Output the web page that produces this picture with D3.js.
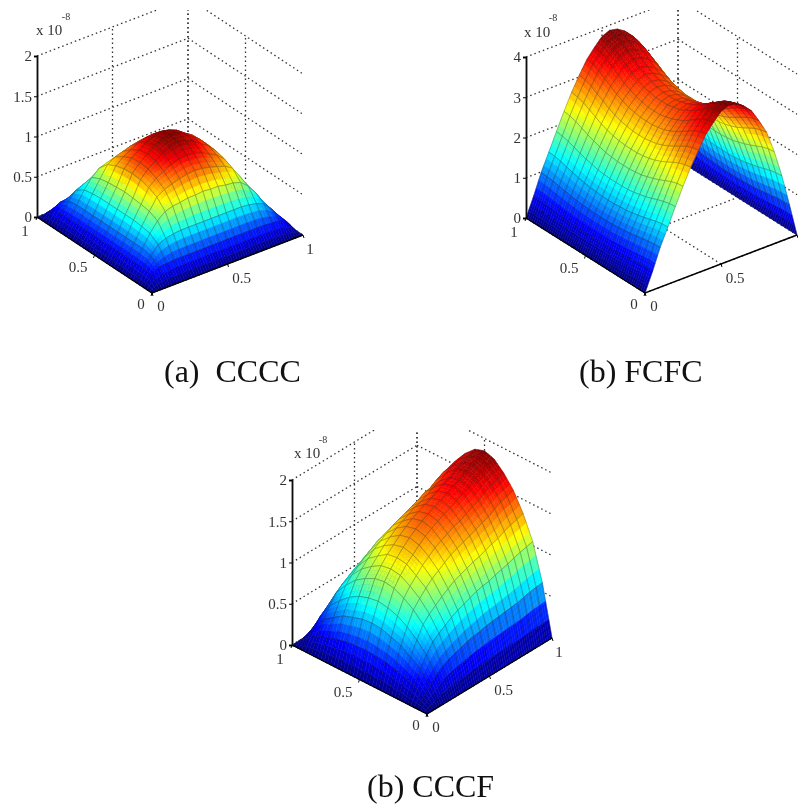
<!DOCTYPE html>
<html>
<head>
  <meta charset="utf-8">
  <script src="https://d3js.org/d3.v7.min.js"></script>
  <style>
    body { margin:0; background:#fff; }
    svg { display:block; }
    text { font-family:"Liberation Serif", serif; }
  </style>
</head>
<body>
<svg width="798" height="808"></svg>
<script>
// surface heights, in units of 1e-10 (row = y axis, column = x axis)
var surfaceA = [
  [0,0,0,0,0,0,0,0,0,0,0,0,0,0,0,0,0,0,0,0,0],
  [0,13,18,19,20,20,20,20,20,20,20,20,20,20,20,20,20,19,18,13,0],
  [0,14,26,36,40,42,43,43,43,43,43,43,43,43,43,42,40,36,26,14,0],
  [0,14,28,43,55,63,66,67,69,69,70,69,69,67,66,63,55,43,28,14,0],
  [0,14,28,45,60,74,80,83,86,88,89,88,86,83,80,74,60,45,28,14,0],
  [0,14,28,46,62,79,87,92,97,100,101,100,97,92,87,79,62,46,28,14,0],
  [0,14,28,46,63,82,92,98,105,109,111,109,105,98,92,82,63,46,28,14,0],
  [0,14,28,46,64,83,93,100,107,112,114,112,107,100,93,83,64,46,28,14,0],
  [0,14,28,46,63,82,92,98,105,109,111,109,105,98,92,82,63,46,28,14,0],
  [0,14,28,46,62,79,87,92,97,100,101,100,97,92,87,79,62,46,28,14,0],
  [0,14,28,45,60,74,80,83,86,88,89,88,86,83,80,74,60,45,28,14,0],
  [0,14,28,43,55,63,66,67,69,69,70,69,69,67,66,63,55,43,28,14,0],
  [0,14,26,36,40,42,43,43,43,43,43,43,43,43,43,42,40,36,26,14,0],
  [0,13,18,19,20,20,20,20,20,20,20,20,20,20,20,20,20,19,18,13,0],
  [0,0,0,0,0,0,0,0,0,0,0,0,0,0,0,0,0,0,0,0,0]
];
var surfaceB = [
  [0,47,99,142,186,229,269,304,336,359,379,387,383,371,352,320,284,229,162,83,0],
  [0,47,98,141,184,227,266,301,333,355,375,383,379,367,348,317,281,227,160,82,0],
  [0,46,96,138,180,222,261,295,326,348,368,375,372,360,341,310,275,222,157,81,0],
  [0,44,93,133,175,215,253,286,316,337,356,364,360,349,331,301,267,215,152,78,0],
  [0,43,90,129,169,208,245,277,306,327,345,352,349,338,320,291,258,208,147,76,0],
  [0,41,87,125,164,202,237,268,296,316,334,341,337,326,310,282,250,202,143,73,0],
  [0,40,85,122,160,197,231,261,289,309,326,333,329,319,303,275,244,197,139,71,0],
  [0,39,83,119,156,192,226,255,282,302,318,325,322,312,296,269,239,192,136,70,0],
  [0,39,82,118,154,190,223,252,279,298,315,321,318,308,292,266,236,190,134,69,0],
  [0,39,81,116,153,188,221,249,276,294,311,317,314,304,289,262,233,188,133,68,0],
  [0,39,81,116,153,188,221,249,276,294,311,317,314,304,289,262,233,188,133,68,0],
  [0,39,81,116,153,188,221,249,276,294,311,317,314,304,289,262,233,188,133,68,0],
  [0,39,82,118,154,190,223,252,279,298,315,321,318,308,292,266,236,190,134,69,0],
  [0,39,83,119,156,192,226,255,282,302,318,325,322,312,296,269,239,192,136,70,0],
  [0,40,85,122,160,197,231,261,289,309,326,333,329,319,303,275,244,197,139,71,0],
  [0,41,87,125,164,202,237,268,296,316,334,341,337,326,310,282,250,202,143,73,0],
  [0,43,90,129,169,208,245,277,306,327,345,352,349,338,320,291,258,208,147,76,0],
  [0,44,93,133,175,215,253,286,316,337,356,364,360,349,331,301,267,215,152,78,0],
  [0,46,96,138,180,222,261,295,326,348,368,375,372,360,341,310,275,222,157,81,0],
  [0,47,98,141,184,227,266,301,333,355,375,383,379,367,348,317,281,227,160,82,0],
  [0,47,99,142,186,229,269,304,336,359,379,387,383,371,352,320,284,229,162,83,0]
];
var surfaceC = [
  [0,0,0,0,0,0,0,0,0,0,0,0,0,0,0,0,0,0,0,0,0],
  [0,10,19,27,33,37,40,42,45,47,48,50,51,52,53,54,55,57,59,60,61],
  [0,18,34,46,57,63,68,73,77,80,83,86,88,89,92,94,96,99,101,103,105],
  [0,22,42,58,72,80,86,92,97,102,105,108,111,113,116,119,121,125,128,130,133],
  [0,26,50,68,84,93,101,108,113,118,123,126,129,132,135,139,141,146,150,152,155],
  [0,29,54,75,92,102,110,118,124,130,134,138,142,144,148,152,155,160,164,167,170],
  [0,30,58,79,98,109,118,125,132,138,143,147,151,154,158,162,165,171,174,177,181],
  [0,31,59,81,100,111,120,128,135,141,146,150,154,157,161,165,168,174,178,181,185],
  [0,30,58,79,98,109,118,125,132,138,143,147,151,154,158,162,165,171,174,177,181],
  [0,29,54,75,92,102,110,118,124,130,134,138,142,144,148,152,155,160,164,167,170],
  [0,26,50,68,84,93,101,108,113,118,123,126,129,132,135,139,141,146,150,152,155],
  [0,22,42,58,72,80,86,92,97,102,105,108,111,113,116,119,121,125,128,130,133],
  [0,18,34,46,57,63,68,73,77,80,83,86,88,89,92,94,96,99,101,103,105],
  [0,10,19,27,33,37,40,42,45,47,48,50,51,52,53,54,55,57,59,60,61],
  [0,0,0,0,0,0,0,0,0,0,0,0,0,0,0,0,0,0,0,0,0]
];
var zTicksSmall = [0, 50, 100, 150, 200];
var zLabelsSmall = ['0', '0.5', '1', '1.5', '2'];
var zTicksLarge = [0, 100, 200, 300, 400];
var zLabelsLarge = ['0', '1', '2', '3', '4'];
var floorTicks = [0, 0.5, 1];
var floorLabels = ['0', '0.5', '1'];

var jetStops = [0, 0.125, 0.375, 0.625, 0.875, 1];
var jetColors = ['#00007f', '#0000ff', '#00ffff', '#ffff00', '#ff0000', '#7f0000'];
var jet = d3.scaleLinear().domain(jetStops).range(jetColors).clamp(true);

var svg = d3.select('svg');
var defs = svg.append('defs');
defs.append('filter').attr('id', 'soft')
  .attr('filterUnits', 'userSpaceOnUse')
  .attr('x', 0).attr('y', 0).attr('width', 798).attr('height', 808)
  .append('feGaussianBlur').attr('stdDeviation', 0.45);

var plots = svg.append('g').attr('filter', 'url(#soft)');

var subSteps = 3;

function drawPanel(id, O, L, R, zHeight, zMax, zTicks, zLabels, surface, clipTop, note) {
  var xU = d3.scaleLinear().domain([0, 1]).range([0, R[0] - O[0]]);
  var yU = d3.scaleLinear().domain([0, 1]).range([0, R[1] - O[1]]);
  var xV = d3.scaleLinear().domain([0, 1]).range([0, L[0] - O[0]]);
  var yV = d3.scaleLinear().domain([0, 1]).range([0, L[1] - O[1]]);
  var zS = d3.scaleLinear().domain([0, zMax]).range([0, -zHeight]);

  function project(u, v, z) {
    return [O[0] + xU(u) + xV(v), O[1] + yU(u) + yV(v) + zS(z)];
  }
  var line = d3.line();

  defs.append('clipPath').attr('id', 'clip' + id)
    .append('rect').attr('x', 0).attr('y', clipTop).attr('width', 798).attr('height', 808);

  var g = plots.append('g');
  var walls = g.append('g').attr('clip-path', 'url(#clip' + id + ')')
    .attr('fill', 'none').attr('stroke', '#333')
    .attr('stroke-width', 1.3).attr('stroke-dasharray', '1.5,3');

  // back walls and floor grid
  var wallLines = [];
  zTicks.forEach(function(z) {
    wallLines.push([project(0, 1, z), project(1, 1, z)]);
    wallLines.push([project(1, 1, z), project(1, 0, z)]);
  });
  floorTicks.forEach(function(t) {
    if (t > 0) {
      wallLines.push([project(t, 1, 0), project(t, 1, zMax)]);
      wallLines.push([project(1, t, 0), project(1, t, zMax)]);
    }
    if (t < 1) {
      wallLines.push([project(t, 0, 0), project(t, 1, 0)]);
      wallLines.push([project(0, t, 0), project(1, t, 0)]);
    }
  });
  walls.selectAll('path').data(wallLines).join('path').attr('d', line);

  // surface, painted from the back corner to the front
  var rows = surface.length - 1, cols = surface[0].length - 1;
  var peak = d3.max(surface, function(r) { return d3.max(r); });
  var marks = [];
  function node(i, j) {
    return project(i / cols, j / rows, surface[j][i]);
  }
  for (var j = rows - 1; j >= 0; j--) {
    for (var i = cols - 1; i >= 0; i--) {
      var z00 = surface[j][i], z10 = surface[j][i + 1], z01 = surface[j + 1][i], z11 = surface[j + 1][i + 1];
      // interpolated shading of the cell
      for (var b = subSteps - 1; b >= 0; b--) {
        for (var a = subSteps - 1; a >= 0; a--) {
          var corners = [[a, b], [a + 1, b], [a + 1, b + 1], [a, b + 1]].map(function(c) {
            var s = c[0] / subSteps, t = c[1] / subSteps;
            var z = (z00 * (1 - s) + z10 * s) * (1 - t) + (z01 * (1 - s) + z11 * s) * t;
            return {p: project((i + s) / cols, (j + t) / rows, z), z: z};
          });
          marks.push({
            d: line(corners.map(function(c) { return c.p; })) + 'Z',
            color: jet(d3.mean(corners, function(c) { return c.z; }) / peak)
          });
        }
      }
      marks.push({d: line([node(i, j), node(i + 1, j), node(i + 1, j + 1), node(i, j + 1)]) + 'Z', mesh: true});
    }
  }
  g.append('g').selectAll('path').data(marks).join('path')
    .attr('d', function(d) { return d.d; })
    .attr('fill', function(d) { return d.mesh ? 'none' : d.color; })
    .attr('stroke', function(d) { return d.mesh ? '#222' : d.color; })
    .attr('stroke-width', function(d) { return d.mesh ? 0.55 : 0.5; })
    .attr('stroke-opacity', function(d) { return d.mesh ? 0.5 : 1; });

  // solid floor edges
  g.append('path').attr('d', line([L, O, R])).attr('fill', 'none')
    .attr('stroke', '#000').attr('stroke-width', 1.4);
  floorTicks.forEach(function(t, k) {
    var pv = project(0, t, 0), pu = project(t, 0, 0);
    g.append('path').attr('d', line([pv, [pv[0] - 1, pv[1] + 3]])).attr('stroke', '#000');
    g.append('path').attr('d', line([pu, [pu[0] + 1, pu[1] + 3]])).attr('stroke', '#000');
    var off = [[-11, 11, 9, 13], [-16.5, 12, 14, 14], [-12, 14, 7, 14]][k];
    g.append('text').attr('x', pv[0] + off[0]).attr('y', pv[1] + off[1]).text(floorLabels[k])
      .attr('text-anchor', 'middle').attr('dy', '0.34em').attr('font-size', 15).attr('fill', '#333');
    // the last label of the right panel falls past the page edge in the reference
    if (pu[0] + off[2] < 790) {
      g.append('text').attr('x', pu[0] + off[2]).attr('y', pu[1] + off[3]).text(floorLabels[k])
        .attr('text-anchor', 'middle').attr('dy', '0.34em').attr('font-size', 15).attr('fill', '#333');
    }
  });

  // z axis
  var zScale = d3.scaleLinear().domain([0, zMax]).range([L[1], L[1] - zHeight]);
  var zAxis = d3.axisLeft(zScale).tickValues(zTicks).tickSize(3).tickPadding(2)
    .tickFormat(function(d, k) { return zLabels[k]; });
  var ax = g.append('g').attr('transform', 'translate(' + L[0] + ',0)').call(zAxis);
  ax.select('.domain').attr('stroke-width', 1.8).attr('stroke', '#111');
  ax.selectAll('text').attr('font-size', 15).attr('fill', '#333')
    .style('font-family', '"Liberation Serif", serif');

  g.append('text').attr('x', L[0] + note[0]).attr('y', zScale(zMax) + note[1]).text('x 10')
    .attr('text-anchor', 'middle').attr('dy', '0.34em').attr('font-size', 15).attr('fill', '#333');
  g.append('text').attr('x', L[0] + note[2]).attr('y', zScale(zMax) + note[3]).text('-8')
    .attr('text-anchor', 'middle').attr('dy', '0.34em').attr('font-size', 10).attr('fill', '#333');
}

drawPanel('a', [152, 293], [37, 217], [303, 235], 161, 200, zTicksSmall, zLabelsSmall, surfaceA, 10, [12, -26, 29, -39]);
drawPanel('b', [645, 293], [526, 218], [797, 235], 161, 400, zTicksLarge, zLabelsLarge, surfaceB, 10, [11, -25, 27, -39]);
drawPanel('c', [427, 714], [292, 645], [552, 638], 165, 200, zTicksSmall, zLabelsSmall, surfaceC, 430, [15, -27, 31, -40]);

// captions
var captions = ['(a)\u00a0 CCCC', '(b) FCFC', '(b) CCCF'];
var captionX = [164, 579, 367];
var captionY = [382, 382, 797];
svg.append('g').selectAll('text').data(captions).join('text')
  .attr('x', function(d, i) { return captionX[i]; })
  .attr('y', function(d, i) { return captionY[i]; })
  .attr('font-size', 32).attr('fill', '#111')
  .text(function(d) { return d; });
</script>
</body>
</html>
